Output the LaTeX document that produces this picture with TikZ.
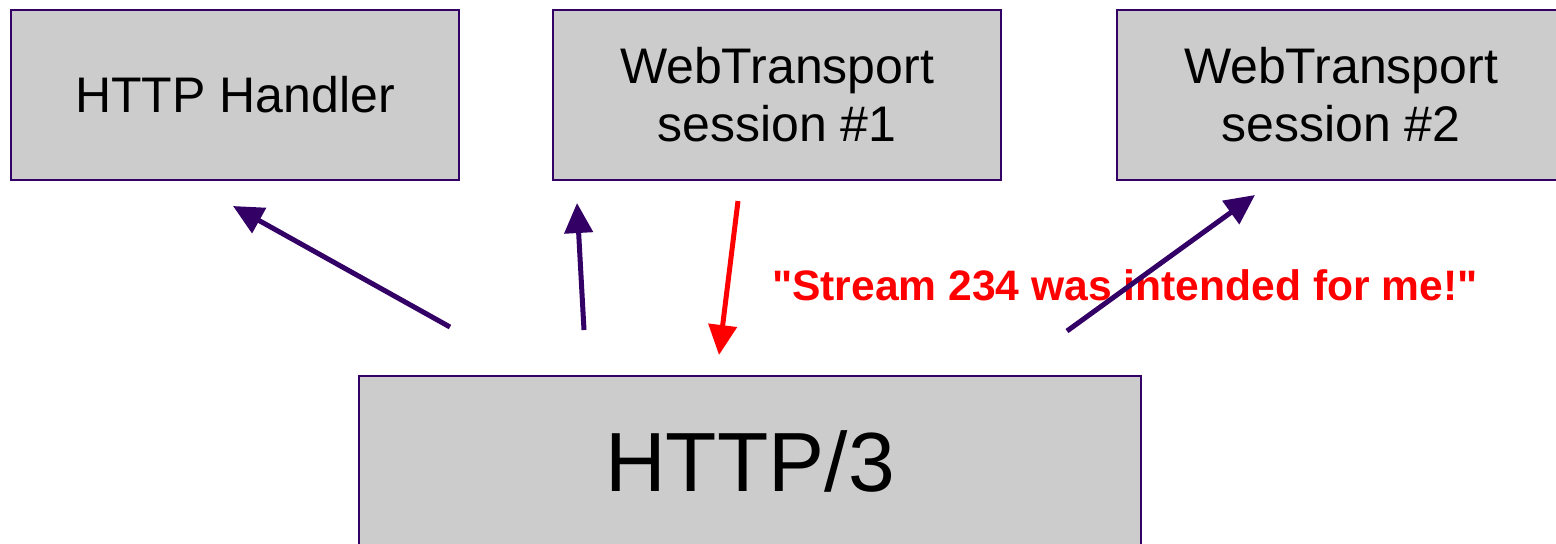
\documentclass[tikz,border=0pt]{standalone}
\usepackage{fontspec}
\setmainfont{Liberation Sans}
\usetikzlibrary{arrows.meta}
\definecolor{wtpurple}{HTML}{330066}
\definecolor{wtgray}{HTML}{CCCCCC}
\begin{document}
\begin{tikzpicture}[x=0.5pt,y=-0.5pt,
  box/.style={draw=wtpurple,fill=wtgray,line width=0.75pt,minimum width=224pt,
    minimum height=85pt,align=center,font=\fontsize{25}{29}\selectfont},
  arr/.style={line width=2.5pt,draw=wtpurple,-{Triangle[length=15pt,width=14pt]}}]
\useasboundingbox (0,0) rectangle (1556,543);

% boxes
\node[box] (handler) at (235,95) {HTTP Handler};
\node[box] (sessone) at (777,95) {WebTransport\\session \#1};
\node[box] (sesstwo) at (1341,95) {WebTransport\\session \#2};
\node[box,minimum width=391pt,font=\fontsize{42}{48}\selectfont] (hthree) at (750,461) {HTTP/3};

% arrow ends
\coordinate (aone) at (450,327);   \coordinate (aonetip) at (233,206);
\coordinate (atwo) at (584,330);   \coordinate (atwotip) at (577,203);
\coordinate (red) at (738,201);    \coordinate (redtip) at (719,355);
\coordinate (athree) at (1067,331); \coordinate (athreetip) at (1255,195);

\draw[arr] (aone) -- (aonetip);
\draw[arr] (atwo) -- (atwotip);
\draw[arr,draw=red] (red) -- (redtip);

\node[text=red,font=\fontsize{21.3}{25}\selectfont\bfseries] (claim) at (1125,285)
  {\textquotedbl Stream 234 was intended for me!\textquotedbl};

\draw[arr] (athree) -- (athreetip);
\end{tikzpicture}
\end{document}
